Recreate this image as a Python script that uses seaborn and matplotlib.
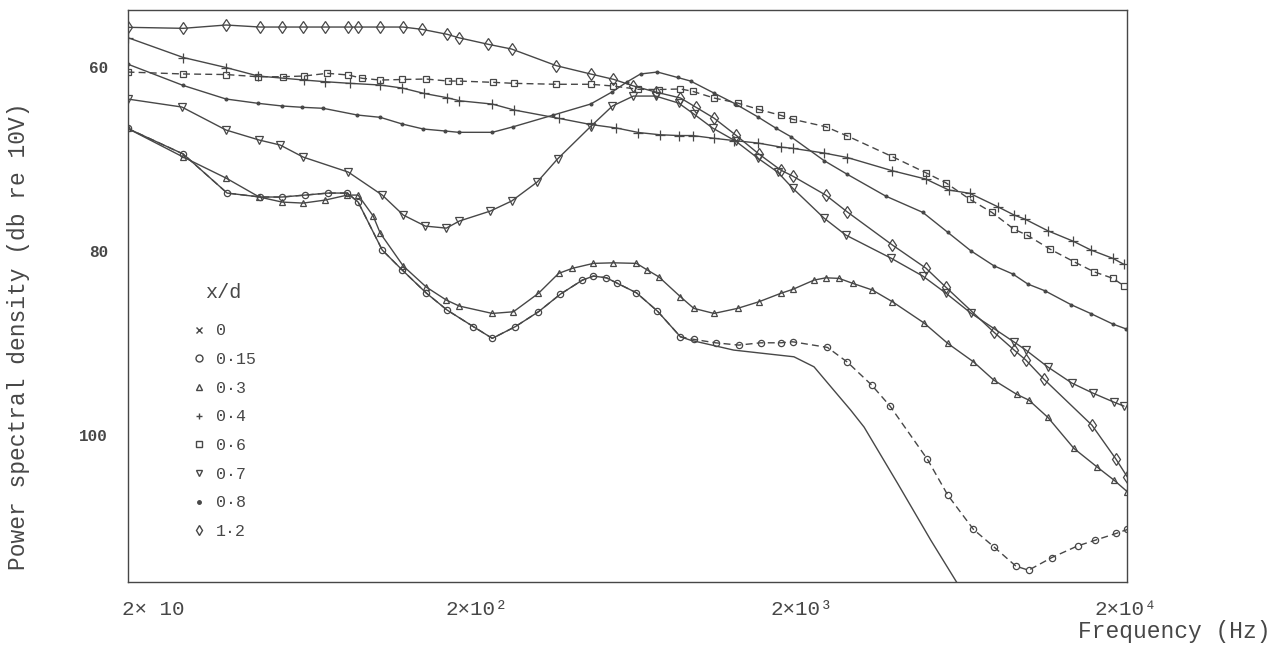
import matplotlib
matplotlib.use('Agg')
import matplotlib.pyplot as plt
from matplotlib.lines import Line2D
from matplotlib.transforms import ScaledTranslation
import seaborn as sns

# values: frequency (Hz) and PSD (dB re 10V)
# x/d = 0  (drawn as a plain line, follows 0.15 at low frequency)
freq_0 = [20, 29.4, 39.8, 50, 58.2, 68.2, 80, 91.3, 98.4, 116.2, 133.5, 157.6, 182, 218,
          248.6, 291.6, 341.8, 398, 463, 500, 547, 590, 673, 778, 912, 978, 1316, 1587,
          1997, 2294, 2628, 2956, 3242, 4083, 5140, 6412]
psd_0 = [66.71, 69.5, 73.74, 74.17, 74.17, 73.96, 73.74, 73.74, 74.72, 79.93, 82.11, 84.61,
         86.46, 88.25, 89.53, 88.25, 86.64, 84.72, 83.2, 82.76, 82.95, 83.55, 84.58, 86.57,
         89.36, 89.73, 90.8, 91.13, 91.53, 92.62, 95.15, 97.33, 99.17, 105.26, 111.46, 117.11]

# x/d = 0.15
freq_015 = [20, 29.4, 39.8, 50, 58.2, 68.2, 80, 91.3, 98.4, 116.2, 133.5, 157.6, 182, 218,
            248.6, 291.6, 341.8, 398, 463, 500, 547, 590, 673, 778, 912, 1000, 1162, 1363,
            1587, 1822, 1979, 2517, 2889, 3418, 3879, 5024, 5781, 6903, 7946, 9252, 10100,
            11868, 14176, 16006, 18470, 20000]
psd_015 = [66.71, 69.5, 73.74, 74.17, 74.17, 73.96, 73.74, 73.74, 74.72, 79.93, 82.11, 84.61,
           86.46, 88.25, 89.53, 88.25, 86.64, 84.72, 83.2, 82.76, 82.95, 83.55, 84.58, 86.57,
           89.36, 89.64, 90.01, 90.26, 90.01, 90.01, 89.9, 90.51, 92.11, 94.61, 96.89, 102.68,
           106.57, 110.29, 112.18, 114.28, 114.72, 113.34, 112.08, 111.46, 110.73, 110.29]

# x/d = 0.3
freq_03 = [20, 29.4, 39.5, 49.7, 58.2, 67.3, 78.4, 91.3, 98.4, 109.2, 114.6, 134.4, 157.6,
           181, 198, 248.6, 287.6, 341.8, 393, 432, 500, 574, 673, 726, 785, 912, 1000, 1149,
           1353, 1568, 1822, 1979, 2294, 2487, 2726, 2998, 3435, 3944, 4898, 5781, 6903,
           7946, 9316, 10122, 11544, 13817, 16194, 18218, 20000]
psd_03 = [66.71, 69.83, 72.11, 74.17, 74.72, 74.83, 74.5, 73.96, 73.96, 76.24, 78.09, 81.67,
          83.96, 85.37, 86.02, 86.82, 86.64, 84.64, 82.47, 81.92, 81.38, 81.32, 81.38, 82.11,
          82.84, 85.01, 86.27, 86.82, 86.27, 85.55, 84.64, 84.21, 83.2, 82.95, 83.01, 83.55,
          84.28, 85.55, 87.84, 90.08, 92.08, 94.07, 95.62, 96.24, 98.12, 101.49, 103.49,
          104.93, 106.21]

# x/d = 0.4
freq_04 = [20, 29.4, 39.5, 49.3, 67.8, 78.4, 93.2, 114.6, 133.5, 155.4, 182, 198, 248.6,
           289.4, 393, 490, 586, 682, 789, 900, 991, 1149, 1316, 1554, 1822, 1979, 2458,
           2889, 3944, 4966, 5821, 6730, 8168, 9141, 9846, 11544, 13720, 15538, 18092, 19520]
psd_04 = [56.84, 59.01, 60.1, 61.02, 61.46, 61.64, 61.82, 62.0, 62.33, 62.92, 63.38, 63.71,
          64.07, 64.72, 65.62, 66.29, 66.67, 67.16, 67.4, 67.49, 67.49, 67.79, 68.03, 68.3,
          68.74, 68.88, 69.39, 69.88, 71.32, 72.22, 73.41, 73.77, 75.23, 76.13, 76.57, 77.84,
          78.96, 79.93, 80.84, 81.49]

# x/d = 0.6
freq_06 = [20, 29.4, 39.5, 49.3, 58.6, 67.8, 79.5, 91.9, 101.2, 114.6, 133.5, 157.6, 183.5,
           198, 250.5, 289.4, 387, 490, 574, 682, 784, 912, 991, 1149, 1353, 1568, 1822,
           1979, 2487, 2889, 3944, 4966, 5702, 6730, 7838, 9141, 9983, 11706, 13817, 15862,
           18092, 19520]
psd_06 = [60.59, 60.8, 60.86, 61.1, 61.1, 61.02, 60.73, 60.91, 61.27, 61.46, 61.4, 61.35,
          61.57, 61.57, 61.71, 61.82, 61.92, 61.92, 62.11, 62.47, 62.49, 62.43, 62.68, 63.41,
          63.96, 64.66, 65.29, 65.72, 66.53, 67.54, 69.79, 71.53, 72.62, 74.42, 75.84, 77.68,
          78.3, 79.83, 81.2, 82.29, 83.01, 83.82]

# x/d = 0.7
freq_07 = [20, 29.1, 39.5, 49.7, 57.4, 67.3, 91.9, 116.2, 134.4, 156.5, 181, 198, 245, 284,
           339, 390, 490, 570, 659, 768, 900, 1000, 1138, 1335, 1554, 1784, 1979, 2458, 2856,
           3898, 4864, 5702, 6776, 9141, 9914, 11544, 13626, 15752, 18218, 19520]
psd_07 = [63.52, 64.39, 66.89, 67.98, 68.52, 69.83, 71.46, 73.96, 76.13, 77.33, 77.55, 76.78,
          75.7, 74.61, 72.54, 70.04, 66.52, 64.28, 63.2, 63.2, 63.96, 65.15, 66.67, 68.09,
          69.93, 71.46, 73.2, 76.46, 78.3, 80.8, 82.76, 84.61, 86.78, 89.93, 90.8, 92.65,
          94.39, 95.48, 96.46, 96.89]

# x/d = 0.8
freq_08 = [20, 29.4, 39.5, 49.3, 58.2, 66.8, 77.3, 97.8, 114.6, 133.5, 154.3, 179.7, 197,
           248.6, 287.6, 379, 490, 570, 632, 692, 778, 894, 978, 1149, 1326, 1554, 1760, 1952,
           2458, 2876, 3765, 4864, 5781, 6776, 7946, 9062, 10052, 11308, 13532, 15538, 18092,
           19794]
psd_08 = [59.72, 62.05, 63.52, 63.99, 64.28, 64.42, 64.53, 65.26, 65.51, 66.24, 66.78, 67.0,
          67.14, 67.14, 66.53, 65.26, 64.07, 62.73, 61.64, 60.8, 60.59, 61.18, 61.57, 62.87,
          64.01, 65.45, 66.67, 67.6, 70.21, 71.67, 74.07, 75.84, 78.01, 80.01, 81.64, 82.54,
          83.63, 84.36, 85.86, 86.84, 87.98, 88.5]

# x/d = 1.2
freq_12 = [20, 29.4, 39.5, 50, 58.2, 67.3, 78.4, 91.9, 98.4, 114.6, 134, 153, 182, 197, 242,
           284, 387, 490, 574, 659, 768, 912, 1012, 1149, 1335, 1568, 1822, 1979, 2487, 2889,
           3944, 4966, 5702, 7946, 9141, 9914, 11226, 15646, 18470, 20000]
psd_12 = [55.73, 55.84, 55.48, 55.7, 55.7, 55.7, 55.7, 55.7, 55.7, 55.7, 55.7, 55.95, 56.49,
          56.86, 57.58, 58.09, 59.9, 60.8, 61.38, 62.1, 62.76, 63.41, 64.39, 65.59, 67.43,
          69.5, 71.24, 71.89, 73.96, 75.8, 79.39, 81.89, 83.96, 88.85, 90.8, 91.89, 93.96,
          98.96, 102.65, 104.61]

labels = ['0', '0·15', '0·3', '0·4', '0·6', '0·7', '0·8', '1·2']
xtick_vals = [20, 200, 2000, 20000]
xtick_text = ['2× 10', '2×10²', '2×10³', '2×10⁴']
ytick_vals = [60, 80, 100]

ink = '#474747'

sns.set_theme(style='white')
plt.rcParams['font.family'] = ['Liberation Mono', 'DejaVu Sans Mono']
plt.rcParams['text.color'] = ink

fig = plt.figure(figsize=(12.84, 6.46), dpi=100)
ax = fig.add_axes([0.0993, 0.0991, 0.7788, 0.8854])

# (freq, psd, marker, linestyle, marker size, filled)
series = [
    (freq_0, psd_0, '', '-', 0, False),
    (freq_015, psd_015, 'o', (0, (5, 3)), 4.5, False),
    (freq_03, psd_03, '^', '-', 5, False),
    (freq_04, psd_04, '+', '-', 7, False),
    (freq_06, psd_06, 's', (0, (5, 3)), 4.5, False),
    (freq_07, psd_07, 'v', '-', 5.5, False),
    (freq_08, psd_08, '.', '-', 4, True),
    (freq_12, psd_12, 'd', '-', 6, False),
]

for f, p, m, ls, ms, filled in series:
    sns.lineplot(x=f, y=p, ax=ax, color=ink, lw=1.0, linestyle=ls,
                 marker=m if m else None, markersize=ms,
                 markerfacecolor=ink if filled else 'none',
                 markeredgecolor=ink, markeredgewidth=0.9,
                 estimator=None, sort=False, legend=False)

ax.set_xscale('log')
ax.set_xlim(20, 20000)
ax.set_ylim(116.0, 53.85)

ax.set_xticks(xtick_vals)
ax.set_xticklabels(xtick_text, fontsize=15)
ax.xaxis.set_minor_locator(matplotlib.ticker.NullLocator())
ax.set_yticks(ytick_vals)
ax.set_yticklabels([str(v) for v in ytick_vals], fontsize=11.5, fontweight='bold')
ax.tick_params(axis='both', direction='in', length=10, width=1.0, color=ink, labelcolor=ink)
ax.tick_params(axis='x', pad=13)
ax.tick_params(axis='y', pad=14)

# the typed labels sit a little right of their ticks on the original
shift_px = [26, 16, 8, -2]
for lab, dx in zip(ax.get_xticklabels(), shift_px):
    lab.set_transform(lab.get_transform() + ScaledTranslation(dx / 100, 0, fig.dpi_scale_trans))

for s in ax.spines.values():
    s.set_color(ink)
    s.set_linewidth(1.0)

ax.set_xlabel('Frequency (Hz)', fontsize=16.5, color=ink)
ax.xaxis.set_label_coords(1.047, -0.066)
ax.set_ylabel('Power spectral density (db re 10V)', fontsize=16.5, color=ink)
ax.yaxis.set_label_coords(-0.098, 0.43)

handles = []
for f, p, m, ls, ms, filled in series:
    mk = 'x' if m == '' else m
    handles.append(Line2D([], [], marker=mk, linestyle='none', color=ink,
                          markersize=5, markeredgewidth=1.0,
                          markerfacecolor=ink if (filled or mk == 'x') else 'none'))
leg = ax.legend(handles, labels, title='x/d', loc='upper left',
                bbox_to_anchor=(0.0635, 0.523), frameon=False, fontsize=12,
                title_fontsize=14.5, labelspacing=0.82, handlelength=1.0,
                handletextpad=0.5, borderpad=0, borderaxespad=0)
leg._legend_box.sep = 15.5
for t in leg.get_texts():
    t.set_color(ink)
leg.get_title().set_color(ink)

fig.savefig('out.png', dpi=100, facecolor='white')
